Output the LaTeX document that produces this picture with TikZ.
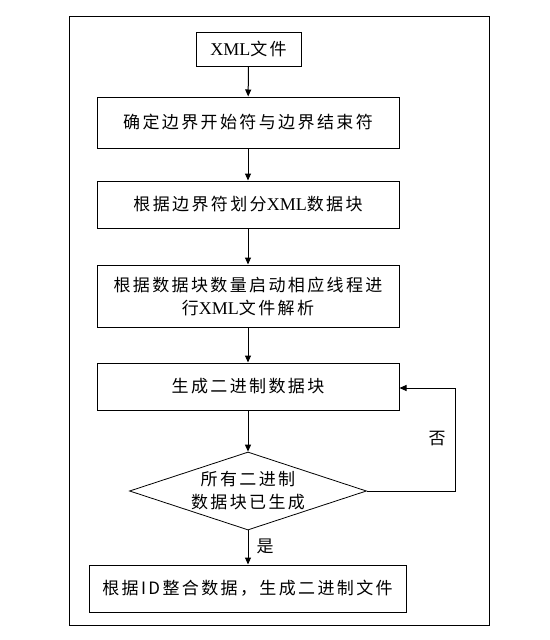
\documentclass[tikz,border=0pt]{standalone}
\usepackage{fontspec}
\setmainfont{Liberation Serif}
\newfontfamily\cjk[LetterSpace=14]{Noto Sans CJK SC}
\usetikzlibrary{shapes.geometric,arrows.meta}
\begin{document}
\begin{tikzpicture}[x=1pt,y=-1pt,
  every node/.style={font=\fontsize{17}{23}\selectfont\cjk},
  box/.style={draw,line width=1pt,minimum width=302pt,inner sep=0pt,align=center},
  dec/.style={draw,line width=0.8pt,diamond,aspect=3.04,minimum width=237pt,minimum height=78pt,inner sep=0pt,align=center},
  arr/.style={line width=1pt,-{Triangle[length=7pt,width=6pt]}},
  lbl/.style={inner sep=0pt}]
\useasboundingbox (0,0) rectangle (549,640);
\draw[line width=1pt] (69,16) rectangle (489,625);
\node[box,minimum width=105pt,minimum height=34pt] (n0) at (248.5,49) {{\rmfamily\fontsize{18}{20}\selectfont XML}文件};
\node[box,minimum height=51pt] (n1) at (248,122.5) {确定边界开始符与边界结束符};
\node[box,minimum height=47pt] (n2) at (248,204.5) {根据边界符划分{\rmfamily\fontsize{18}{20}\selectfont XML}数据块};
\node[box,minimum height=62pt] (n3) at (248,296) {根据数据块数量启动相应线程进\\行{\rmfamily\fontsize{18}{20}\selectfont XML}文件解析};
\node[box,minimum height=47pt] (n4) at (248,386.5) {生成二进制数据块};
\node[dec] (d) at (248,491) {所有二进制\\数据块已生成};
\node[box,minimum width=317pt,minimum height=47pt] (n5) at (247.5,588.5) {根据ID整合数据，生成二进制文件};
\coordinate (c1) at (455,491);
\coordinate (c2) at (455,388);
\draw[arr] (n0) -- (n1);
\draw[arr] (n1) -- (n2);
\draw[arr] (n2) -- (n3);
\draw[arr] (n3) -- (n4);
\draw[arr] (n4.south) -- (d.north);
\draw[arr] (d.south) -- (d.south |- n5.north);
\draw[arr] (d.east) -- (c1) -- (c2) -- (c2 -| n4.east);
\node[lbl] (no) at (437,439) {否};
\node[lbl] (yes) at (265,546) {是};
\end{tikzpicture}
\end{document}
